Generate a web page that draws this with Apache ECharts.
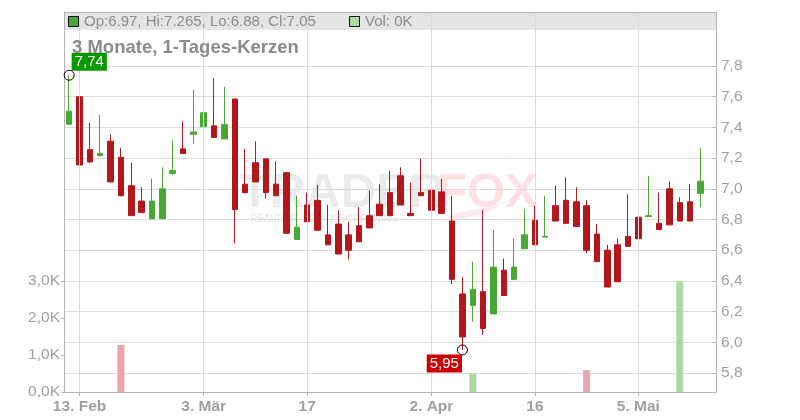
<!DOCTYPE html>
<html><head><meta charset="utf-8">
<script src="https://cdn.jsdelivr.net/npm/echarts@6/dist/echarts.min.js"></script>
<style>html,body{margin:0;padding:0;background:#fff}#c{width:800px;height:420px}</style>
</head><body><div id="c"></div>
<script>
// ---- data ----
const dates = ['2025-02-12','2025-02-13','2025-02-14','2025-02-17','2025-02-18','2025-02-19','2025-02-20','2025-02-21','2025-02-24','2025-02-25','2025-02-26','2025-02-27','2025-02-28',
'2025-03-03','2025-03-04','2025-03-05','2025-03-06','2025-03-07','2025-03-10','2025-03-11','2025-03-12','2025-03-13','2025-03-14','2025-03-17','2025-03-18','2025-03-19','2025-03-20','2025-03-21','2025-03-24','2025-03-25','2025-03-26','2025-03-27','2025-03-28','2025-03-31',
'2025-04-01','2025-04-02','2025-04-03','2025-04-04','2025-04-07','2025-04-08','2025-04-09','2025-04-10','2025-04-11','2025-04-14','2025-04-15','2025-04-16','2025-04-17','2025-04-22','2025-04-23','2025-04-24','2025-04-25','2025-04-28','2025-04-29','2025-04-30',
'2025-05-02','2025-05-05','2025-05-06','2025-05-07','2025-05-08','2025-05-09','2025-05-12','2025-05-13','2025-05-14'];
const open  = [7.42,7.60,7.255,7.215,7.31,7.205,7.02,6.92,6.805,6.805,7.10,7.26,7.355,7.405,7.41,7.325,7.585,7.03,7.17,7.195,7.03,7.105,6.67,6.895,6.925,6.70,6.77,6.70,6.76,6.825,6.90,6.975,7.085,6.84,6.975,6.99,6.98,6.79,6.315,6.24,6.33,6.185,6.47,6.41,6.61,6.795,6.685,6.89,6.925,6.915,6.89,6.705,6.60,6.635,6.69,6.815,6.82,6.775,7.00,6.91,6.915,6.97];
const high  = [7.74,7.61,7.43,7.48,7.355,7.265,7.17,7.01,7.065,7.14,7.32,7.44,7.645,7.675,7.72,7.665,7.585,7.26,7.31,7.195,7.18,7.11,6.955,6.975,7.025,6.895,6.86,6.785,6.88,6.99,7.03,7.115,7.14,7.04,7.195,7.14,7.065,6.955,6.425,6.525,6.86,6.73,6.545,6.675,6.87,6.89,6.955,7.02,7.075,7.01,6.925,6.77,6.635,6.675,6.965,6.835,7.085,6.975,7.05,6.945,7.03,7.265];
const low   = [7.42,7.10,7.17,7.215,7.045,6.95,6.825,6.845,6.805,6.805,7.09,7.23,7.295,7.405,7.335,7.325,6.645,6.97,7.045,6.935,6.955,6.71,6.67,6.785,6.73,6.635,6.575,6.54,6.655,6.745,6.825,6.825,6.895,6.825,6.955,6.86,6.84,6.38,5.95,6.135,6.05,6.185,6.305,6.41,6.605,6.635,6.685,6.79,6.775,6.755,6.58,6.525,6.36,6.395,6.625,6.675,6.82,6.735,6.765,6.79,6.79,6.88];
const close = [7.505,7.155,7.175,7.23,7.045,6.955,6.825,6.845,6.92,7.00,7.12,7.23,7.37,7.495,7.335,7.42,6.865,6.975,7.045,6.975,6.955,6.71,6.75,6.785,6.73,6.635,6.575,6.60,6.655,6.745,6.825,6.825,6.895,6.825,6.955,6.86,6.84,6.41,6.035,6.345,6.09,6.49,6.305,6.49,6.70,6.635,6.69,6.79,6.775,6.755,6.60,6.525,6.36,6.395,6.625,6.675,6.825,6.735,6.765,6.79,6.79,7.05];
const volume = [0,0,0,0,0,1270,0,0,0,0,0,0,0,0,0,0,0,0,0,0,0,0,0,0,0,0,0,0,0,0,0,0,0,0,0,0,0,0,0,510,0,0,0,0,0,0,0,0,0,0,590,0,0,0,0,0,0,0,0,3030,0,0];
const tickDates  = ['2025-02-13','2025-03-03','2025-03-17','2025-04-02','2025-04-16','2025-05-05'];
const tickLabels = ['13. Feb','3. Mär','17','2. Apr','16','5. Mai'];
const priceTickMin = 5.8, priceTickMax = 7.8, priceTickStep = 0.2;
const volTickMin = 0, volTickMax = 3000, volTickStep = 1000;
const title = '3 Monate, 1-Tages-Kerzen';

// ---- layout ----
const W = 800, H = 420;
const L = 64, R = 716, T = 12, B = 392;
const yHiTick = 66, yLoTick = 373;           // pixel rows of 7.8 and 5.8
const yVolTop = 281;                          // pixel row of 3,0K
const ppu = (yLoTick - yHiTick) / (priceTickMax - priceTickMin);
const pMin = priceTickMin - (B - yLoTick) / ppu;
const pMax = priceTickMax + (yHiTick - T) / ppu;

const FONT = "'Liberation Sans', Arial, Helvetica, sans-serif";
const UP = '#48a932', DOWN = '#b3171b';
const GRID = '#dcdcdc', AXIS = '#b4b4b4', TXT = '#a0a0a0';
const comma = v => String(v).replace('.', ',');

const candle = open.map((o, i) => [o, close[i], low[i], high[i]]);
const volData = volume.map((v, i) => ({
  value: v,
  itemStyle: { color: (i > 0 && close[i] < close[i - 1]) ? '#eba5ad' : '#aadca2' }
}));
let hi = 0, lo = 0;
high.forEach((v, i) => { if (v > high[hi]) hi = i; });
low.forEach((v, i) => { if (v < low[lo]) lo = i; });
const isTick = (idx, val) => tickDates.indexOf(val) >= 0;
const n = open.length - 1;

const chart = echarts.init(document.getElementById('c'), null, { renderer: 'canvas', width: W, height: H });
const gridBox = (top, bottom) => ({ left: L, right: W - R, top: top, bottom: H - bottom, containLabel: false });

chart.setOption({
  animation: false,
  backgroundColor: '#fff',
  grid: [gridBox(T, B), gridBox(yVolTop, B), gridBox(yHiTick, yLoTick)],
  xAxis: [
    { gridIndex: 0, type: 'category', data: dates, boundaryGap: true,
      axisLine: { show: true, lineStyle: { color: AXIS, width: 1 } },
      axisTick: { show: true, alignWithLabel: true, interval: isTick, length: 4, lineStyle: { color: AXIS } },
      axisLabel: { show: true, interval: isTick, margin: 7, color: TXT, fontFamily: FONT, fontWeight: 'bold', fontSize: 15.5,
        formatter: v => tickLabels[tickDates.indexOf(v)] },
      splitLine: { show: false } },
    { gridIndex: 1, type: 'category', data: dates, boundaryGap: true, show: false },
    { gridIndex: 2, type: 'category', data: dates, boundaryGap: true, show: false }
  ],
  yAxis: [
    { gridIndex: 0, type: 'value', position: 'right', min: pMin, max: pMax, scale: true,
      axisLine: { show: true, lineStyle: { color: AXIS } }, axisTick: { show: false }, axisLabel: { show: false }, splitLine: { show: false } },
    { gridIndex: 0, type: 'value', position: 'left', min: pMin, max: pMax, scale: true,
      axisLine: { show: true, lineStyle: { color: AXIS } }, axisTick: { show: false }, axisLabel: { show: false }, splitLine: { show: false } },
    { gridIndex: 1, type: 'value', position: 'left', min: volTickMin, max: volTickMax, interval: volTickStep,
      axisLine: { show: false }, axisTick: { show: true, length: 3, lineStyle: { color: AXIS } },
      axisLabel: { margin: 4, color: TXT, fontFamily: FONT, fontSize: 15.5, formatter: v => comma((v / 1000).toFixed(1)) + 'K' },
      splitLine: { show: false } },
    { gridIndex: 2, type: 'value', position: 'right', min: priceTickMin, max: priceTickMax, interval: priceTickStep,
      axisLine: { show: false }, axisTick: { show: true, inside: true, length: 4, lineStyle: { color: AXIS } },
      axisLabel: { margin: 5, color: TXT, fontFamily: FONT, fontSize: 15.5, formatter: v => comma(v.toFixed(1)) },
      splitLine: { show: true, lineStyle: { color: GRID, width: 1 } } }
  ],
  graphic: [
    { type: 'rect', z: -5, silent: true, shape: { x: L, y: T, width: R - L, height: 18 }, style: { fill: '#e4e4e4' } },
    { type: 'line', z: 50, silent: true, shape: { x1: L, y1: T + 0.5, x2: R, y2: T + 0.5 }, style: { stroke: AXIS, lineWidth: 1 } },
    { type: 'rect', z: 50, silent: true, shape: { x: 68.5, y: 16.5, width: 10, height: 10 }, style: { fill: UP, stroke: '#111', lineWidth: 1 } },
    { type: 'text', z: 50, silent: true, x: 84, y: 21.5, style: { text: 'Op:' + open[n] + ', Hi:' + high[n] + ', Lo:' + low[n] + ', Cl:' + close[n],
      fill: '#8c8c8c', font: '15px ' + FONT, verticalAlign: 'middle' } },
    { type: 'rect', z: 50, silent: true, shape: { x: 349.5, y: 16.5, width: 10, height: 10 }, style: { fill: '#aadca2', stroke: '#111', lineWidth: 1 } },
    { type: 'text', z: 50, silent: true, x: 365, y: 21.5, style: { text: 'Vol: ' + Math.round(volume[n] / 1000) + 'K',
      fill: '#8c8c8c', font: '15px ' + FONT, verticalAlign: 'middle' } },
    { type: 'text', z: 50, silent: true, x: 72, y: 48, style: { text: title, fill: '#8a8a8a', font: 'bold 18.5px ' + FONT, verticalAlign: 'middle' } },
    // watermark
    { type: 'text', z: -4, silent: true, x: 240, y: 193, style: { text: 'TRADER', fill: 'rgba(200,200,200,0.36)', font: 'bold 49px ' + FONT, verticalAlign: 'middle' } },
    { type: 'text', z: -4, silent: true, x: 437, y: 193, style: { text: 'FOX', fill: 'rgba(245,120,135,0.22)', font: 'bold 49px ' + FONT, verticalAlign: 'middle' } },
    { type: 'polygon', z: -4, silent: true, shape: { points: [[440,222],[462,219],[485,213],[505,203],[520,193],[528,186],[515,198],[495,206],[472,210],[458,213]] },
      style: { fill: 'rgba(245,120,135,0.16)' } },
    { type: 'text', z: -4, silent: true, x: 250, y: 219, style: { text: 'REALTIME STOCK SCREENING', fill: 'rgba(190,190,190,0.4)', font: '10px ' + FONT, verticalAlign: 'middle' } }
  ],
  series: [
    { type: 'line', xAxisIndex: 0, yAxisIndex: 0, z: 1, data: dates.map(() => '-'), silent: true,
      markLine: { silent: true, symbol: 'none', label: { show: false }, animation: false,
        lineStyle: { color: GRID, type: 'solid', width: 1 },
        data: tickDates.map(d => ({ xAxis: d })) } },
    { type: 'bar', xAxisIndex: 1, yAxisIndex: 2, z: 2, barWidth: 7, data: volData, silent: true },
    { type: 'candlestick', xAxisIndex: 0, yAxisIndex: 0, z: 3, barWidth: 6, data: candle, silent: true,
      itemStyle: { color: UP, color0: DOWN, borderColor: UP, borderColor0: DOWN, borderWidth: 1 },
      markPoint: { silent: true, animation: false, symbol: 'circle', symbolSize: 10,
        itemStyle: { color: 'rgba(0,0,0,0)', borderColor: '#000', borderWidth: 1 },
        data: [
          { coord: [dates[hi], high[hi]], value: high[hi],
            label: { show: true, position: [8, 1], align: 'left', verticalAlign: 'bottom', backgroundColor: '#0a9a00',
              color: '#fff', padding: [2, 3, 1, 3], fontSize: 15, fontFamily: FONT, formatter: p => comma(p.value) } },
          { coord: [dates[lo], low[lo]], value: low[lo],
            label: { show: true, position: [5, 10], align: 'right', verticalAlign: 'top', backgroundColor: '#cc0000',
              color: '#fff', padding: [2, 3, 1, 3], fontSize: 15, fontFamily: FONT, formatter: p => comma(p.value) } }
        ] } }
  ]
});
</script></body></html>
